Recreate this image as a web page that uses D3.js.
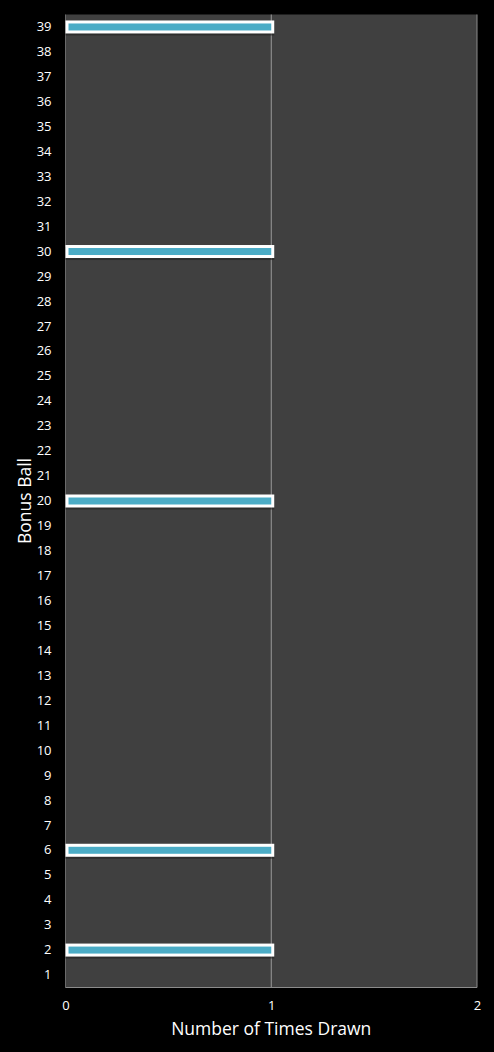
<!DOCTYPE html>
<html>
<head>
<meta charset="utf-8">
<script src="https://cdn.jsdelivr.net/npm/d3@7"></script>
<style>
  html, body { margin: 0; padding: 0; background: #000; }
  svg { display: block; }
</style>
</head>
<body>
<svg width="494" height="1052"></svg>
<script>
// bonus ball numbers 1..39 and how many times each was drawn
const balls = d3.range(1, 40).map(String);
const drawnBalls = ['2', '6', '20', '30', '39'];
const timesDrawn = balls.map(b => drawnBalls.includes(b) ? 1 : 0);
const xTicks = [0, 1, 2];

const svg = d3.select('svg');
const margens = { left: 65.5, right: 17, top: 14.5, bottom: 64.5 };
const width = +svg.attr('width');
const height = +svg.attr('height');
const innerWidth = width - margens.left - margens.right;
const innerHeight = height - margens.top - margens.bottom;
const fonte = '"Open Sans", "DejaVu Sans", sans-serif';

const data = balls.map((b, i) => ({ ball: b, value: timesDrawn[i] }));

// --- Escalas ---
const x = d3.scaleLinear().domain([0, 2]).range([0, innerWidth]);
const y = d3.scaleBand()
    .domain(balls.slice().reverse())
    .range([0, innerHeight]);

const g = svg.append('g')
    .attr('transform', `translate(${margens.left}, ${margens.top})`);

// fundo da area do grafico
g.append('rect')
    .attr('width', innerWidth)
    .attr('height', innerHeight)
    .attr('fill', '#404040');

// linha do eixo esquerdo
g.append('line')
    .attr('x1', 0).attr('x2', 0)
    .attr('y1', 0).attr('y2', innerHeight)
    .attr('stroke', '#6a6a6a');

// linhas de grade verticais
g.append('g')
    .selectAll('line')
    .data(xTicks.slice(1))
    .join('line')
        .attr('x1', d => x(d))
        .attr('x2', d => x(d))
        .attr('y1', 0)
        .attr('y2', innerHeight)
        .attr('stroke', d => d === 2 ? '#8c8c8c' : '#9a9a9a')
        .attr('stroke-width', 1);

// eixo inferior (linha)
g.append('line')
    .attr('x1', 0).attr('x2', innerWidth)
    .attr('y1', innerHeight).attr('y2', innerHeight)
    .attr('stroke', '#8c8c8c');

// --- Barras ---
const barH = 10;
const barras = g.append('g')
    .selectAll('g')
    .data(data.filter(d => d.value > 0))
    .join('g')
        .attr('transform', d => `translate(0, ${y(d.ball) + y.bandwidth() / 2})`);

// sombra
barras.append('rect')
    .attr('x', 1.5)
    .attr('y', -barH / 2 + 2)
    .attr('width', d => x(d.value))
    .attr('height', barH)
    .attr('fill', 'none')
    .attr('stroke', '#222')
    .attr('stroke-opacity', 0.6)
    .attr('stroke-width', 3);

barras.append('rect')
    .attr('x', 1.5)
    .attr('y', -barH / 2)
    .attr('width', d => x(d.value))
    .attr('height', barH)
    .attr('fill', '#4bacc6')
    .attr('stroke', '#fff')
    .attr('stroke-width', 3);

// --- Eixos ---
const eixoY = g.append('g')
    .call(d3.axisLeft(y).tickSize(0).tickPadding(14));
eixoY.select('.domain').remove();
eixoY.selectAll('text')
    .attr('fill', '#fff')
    .style('font-family', fonte)
    .style('font-size', '13px');

const eixoX = g.append('g')
    .attr('transform', `translate(0, ${innerHeight})`)
    .call(d3.axisBottom(x).tickValues(xTicks).tickFormat(d3.format('d')).tickSize(0).tickPadding(13));
eixoX.select('.domain').remove();
eixoX.selectAll('text')
    .attr('fill', '#fff')
    .style('font-family', fonte)
    .style('font-size', '13px');

// titulos dos eixos
svg.append('text')
    .attr('x', margens.left + innerWidth / 2)
    .attr('y', 1035)
    .attr('text-anchor', 'middle')
    .attr('fill', '#fff')
    .style('font-family', fonte)
    .style('font-size', '17.5px')
    .text('Number of Times Drawn');

svg.append('text')
    .attr('transform', `translate(31, 501) rotate(-90)`)
    .attr('text-anchor', 'middle')
    .attr('fill', '#fff')
    .style('font-family', fonte)
    .style('font-size', '17.5px')
    .text('Bonus Ball');
</script>
</body>
</html>
